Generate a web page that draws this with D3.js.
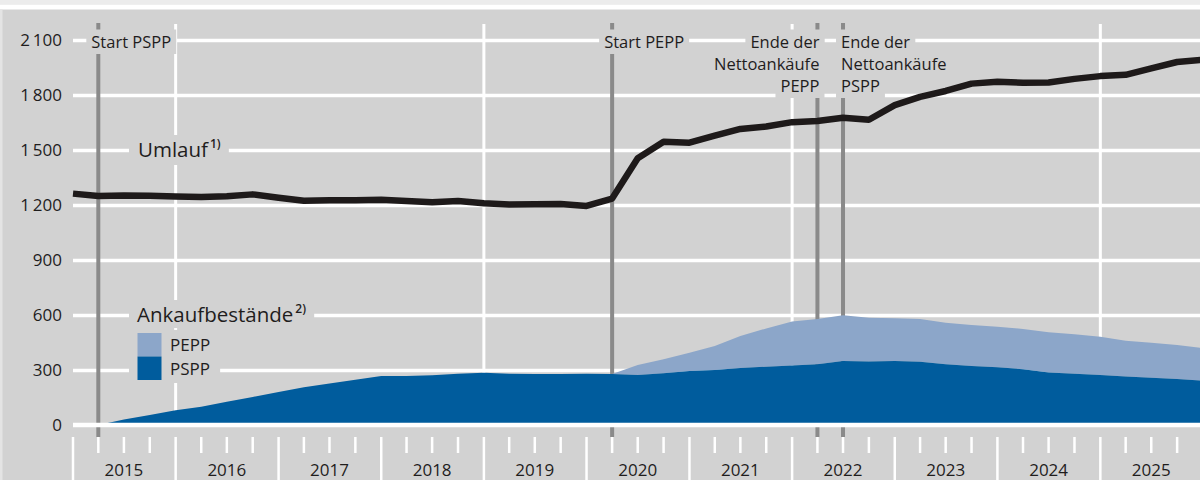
<!DOCTYPE html>
<html><head><meta charset="utf-8">
<script src="https://cdn.jsdelivr.net/npm/d3@7"></script>
<style>
body{margin:0;background:#ececec}
svg{display:block}
text{font-family:"Open Sans",sans-serif;fill:#1f1d1d}
</style>
</head><body><svg id="c" width="1200" height="480"></svg>
<script>
// ---------- data ----------
const quarterEnds = ["2014-12","2015-03","2015-06","2015-09","2015-12","2016-03","2016-06","2016-09","2016-12",
"2017-03","2017-06","2017-09","2017-12","2018-03","2018-06","2018-09","2018-12","2019-03","2019-06","2019-09","2019-12",
"2020-03","2020-06","2020-09","2020-12","2021-03","2021-06","2021-09","2021-12","2022-03","2022-06","2022-09","2022-12",
"2023-03","2023-06","2023-09","2023-12","2024-03","2024-06","2024-09","2024-12","2025-03","2025-06","2025-09","2025-12"];
const umlauf = [1262,1249,1252,1250,1247,1243,1248,1258,1240,1223,1226,1226,1228,1222,1215,1222,1209,1203,1204,1205,
1195,1235,1455,1545,1540,1578,1615,1628,1652,1658,1676,1665,1745,1790,1822,1862,1872,1867,1868,1888,1903,1910,1945,1980,1992];
const pspp = [null,0,30,55,80,100,127,153,180,206,226,247,267,267,272,280,285,280,278,278,280,
278,273,282,294,300,311,318,324,331,349,347,349,345,331,322,315,304,287,280,273,264,258,251,241];
const pepp = [null,null,null,null,null,null,null,null,null,null,null,null,null,null,null,null,null,null,null,null,null,
0,54,76,100,131,174,209,240,247,249,238,233,233,227,223,221,220,219,215,209,196,191,185,179];
const yTicks = [0,300,600,900,1200,1500,1800,2100];
const yearLabels = ["2015","2016","2017","2018","2019","2020","2021","2022","2023","2024","2025"];
const gridYears = ["2016","2019","2022","2025"];
const eventDates = ["2015-03","2020-03","2022-03","2022-06"];
const eventLabels = [["Start PSPP"],["Start PEPP"],["Ende der","Nettoankäufe","PEPP"],["Ende der","Nettoankäufe","PSPP"]];
const seriesNames = ["Umlauf","Ankaufbestände","PEPP","PSPP"];
const footnotes = ["1)","2)"];

// ---------- setup ----------
const W = 1200, H = 480;
const BG = "#d2d2d2", DARK = "#005c9d", LIGHT = "#8ca6c9", EVT = "#8a8a8a", LINE = "#1e1a1a";
const svg = d3.select("#c");
const parseM = d3.timeParse("%Y-%m");
const qDate = s => d3.timeMonth.offset(parseM(s), 1);
const x = d3.scaleTime().domain([new Date(2015,0,1), new Date(2026,0,1)]).range([73, 1203]);
const y = d3.scaleLinear().domain([0,2100]).range([425,40]);

svg.append("rect").attr("width",W).attr("height",H).attr("fill",BG);
svg.append("rect").attr("width",W).attr("height",4.5).attr("fill","#ececec");
svg.append("rect").attr("y",4.5).attr("width",W).attr("height",5).attr("fill","#ffffff");
svg.append("rect").attr("x",0).attr("y",9.5).attr("width",2.5).attr("height",H).attr("fill","#e4e4e4");

// horizontal grid + y labels
const yAxis = d3.axisLeft(y).tickValues(yTicks).tickSize(-(W-73)).tickPadding(11)
  .tickFormat(d => d3.format(",")(d).replace(",", "\u2009"));
const ga = svg.append("g").attr("transform","translate(73,0)").call(yAxis);
ga.select(".domain").remove();
ga.selectAll(".tick line").attr("stroke","#ffffff").attr("stroke-width",d => d===0?0:3.5);
ga.selectAll(".tick text").attr("font-size","17px").attr("font-family","Open Sans").attr("fill","#1f1d1d");

// vertical grid lines
const gv = svg.append("g");
gv.selectAll("line").data(gridYears).join("line")
  .attr("x1",d=>x(new Date(+d,0,1))).attr("x2",d=>x(new Date(+d,0,1)))
  .attr("y1",24).attr("y2",425).attr("stroke","#fff").attr("stroke-width",3);

// event lines
svg.append("g").selectAll("line").data(eventDates).join("line")
  .attr("x1",d=>x(qDate(d))).attr("x2",d=>x(qDate(d)))
  .attr("y1",23).attr("y2",437).attr("stroke",EVT).attr("stroke-width",4);

// areas
const idx = d3.range(quarterEnds.length);
const areaPSPP = d3.area().defined(i=>pspp[i]!=null)
  .x(i=>x(qDate(quarterEnds[i]))).y0(y(0)).y1(i=>y(pspp[i]));
const areaPEPP = d3.area().defined(i=>pepp[i]!=null)
  .x(i=>x(qDate(quarterEnds[i]))).y0(i=>y(pspp[i])).y1(i=>y(pspp[i]+pepp[i]));
svg.append("path").attr("d",areaPEPP(idx)).attr("fill",LIGHT);
svg.append("path").attr("d",areaPSPP(idx)).attr("fill",DARK);

// baseline
svg.append("line").attr("x1",73).attr("x2",W).attr("y1",y(0)).attr("y2",y(0))
  .attr("stroke","#fff").attr("stroke-width",4.5);

// x ticks
const quarterTicks = quarterEnds.map(qDate);
svg.append("g").selectAll("line").data(quarterTicks).join("line")
  .attr("x1",d=>x(d)).attr("x2",d=>x(d))
  .attr("y1",437).attr("y2",d=>d.getMonth()===0?480:453)
  .attr("stroke","#fff").attr("stroke-width",2.5);
svg.append("g").selectAll("text").data(yearLabels).join("text")
  .attr("x",d=>x(new Date(+d,6,1))).attr("y",476).attr("text-anchor","middle")
  .attr("font-size","17px").text(d=>d);

// helper: masked text
function maskedText(g, tx, ty, str, size, anchor, padL, padR){
  const r = g.append("rect").attr("fill",BG);
  const t = g.append("text").attr("x",tx).attr("y",ty).attr("text-anchor",anchor)
    .attr("font-size",size+"px").text(str);
  const b = t.node().getBBox();
  r.attr("x",b.x-padL).attr("y",b.y).attr("width",b.width+padL+padR).attr("height",b.height+1.5);
  return t;
}

// event labels
const evAnchor = ["start","start","end","start"];
const evDx = [-7,-8,2,-2];
const gl = svg.append("g");
eventLabels.forEach((lines,i)=>{
  const ex = x(qDate(eventDates[i])) + evDx[i];
  lines.forEach((s,j)=>{
    maskedText(gl, ex, 47.5 + j*22, s, 16.5, evAnchor[i], 5, 5);
  });
});

// Umlauf label
{
  const g = svg.append("g");
  const r = g.append("rect").attr("fill",BG);
  const t = g.append("text").attr("x",138).attr("y",157).attr("font-size","20.5px");
  t.append("tspan").text(seriesNames[0]);
  t.append("tspan").attr("dx",2).attr("dy",-9).attr("font-size","12px").attr("font-weight",600).text(footnotes[0]);
  const b = t.node().getBBox();
  r.attr("x",b.x-9).attr("y",b.y).attr("width",b.width+17).attr("height",b.height+2);
}

// legend
{
  const g = svg.append("g");
  const r = g.append("rect").attr("fill",BG);
  const t = g.append("text").attr("x",137).attr("y",322).attr("font-size","20.5px");
  t.append("tspan").text(seriesNames[1]);
  t.append("tspan").attr("dx",2).attr("dy",-9).attr("font-size","12px").attr("font-weight",600).text(footnotes[1]);
  const b = t.node().getBBox();
  r.attr("x",b.x-8).attr("y",b.y).attr("width",b.width+16).attr("height",b.height);
  const r2 = g.append("rect").attr("fill",BG).attr("x",129).attr("y",330).attr("height",53);
  const items = [{name:seriesNames[2],c:LIGHT,y0:333},{name:seriesNames[3],c:DARK,y0:356.5}];
  let maxR = 0;
  items.forEach(it=>{
    g.append("rect").attr("x",137.5).attr("y",it.y0).attr("width",24).attr("height",23.5).attr("fill",it.c);
    const tt = g.append("text").attr("x",170).attr("y",it.y0+18).attr("font-size","17px").text(it.name);
    const bb = tt.node().getBBox(); maxR = Math.max(maxR, bb.x+bb.width);
  });
  r2.attr("width",maxR+10-129);
}

// Umlauf line
const line = d3.line().x(i=>x(qDate(quarterEnds[i]))).y(i=>y(umlauf[i]));
svg.append("path").attr("d",line(idx)).attr("fill","none").attr("stroke",LINE)
  .attr("stroke-width",6.5).attr("stroke-linejoin","round");
</script>
</body></html>
